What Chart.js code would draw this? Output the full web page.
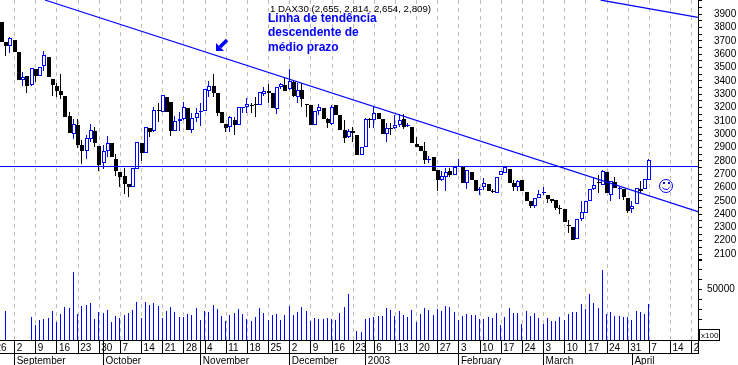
<!DOCTYPE html>
<html>
<head>
<meta charset="utf-8">
<script src="https://cdn.jsdelivr.net/npm/chart.js@4/dist/chart.umd.min.js"></script>
<style>
  html, body { margin: 0; padding: 0; background: #fff; }
  canvas { display: block; }
</style>
</head>
<body>
<canvas id="daxChart" width="738" height="365"></canvas>
<script>
// Daily DAX30 prices, one entry per trading day
const opens = [
  3842,3695,3665,3707,3617,3405,3437,3370,3490,3440,
  3515,3580,3415,3362,3325,3287,3140,3005,3070,2922,
  2877,2967,3025,2912,2780,2870,2932,2815,2717,2687,
  2627,2600,2737,2932,2862,3047,3027,3180,3165,3280,
  3242,3027,3097,3112,3197,3030,3125,3165,3172,3327,
  3362,3307,3165,3077,3052,3105,3067,3200,3202,3222,
  3227,3220,3300,3322,3307,3192,3352,3370,3337,3395,
  3282,3332,3225,3220,3067,3172,3200,3115,3080,3220,
  3145,3035,2977,3027,2995,2847,2907,3112,3107,3157,
  3112,3005,3050,3045,3067,3115,3062,3055,2927,2912,
  2872,2812,2825,2730,2655,2677,2720,2692,2757,2757,
  2630,2717,2657,2590,2600,2625,2570,2562,2692,2712,
  2737,2632,2600,2657,2567,2500,2457,2520,2562,2542,
  2512,2507,2445,2440,2320,2302,2212,2362,2407,2495,
  2587,2640,2620,2715,2545,2640,2587,2592,2520,2437,
  2475,2587,2587,2655
];
const closes = [
  3695,3665,3720,3617,3407,3432,3362,3495,3437,3502,
  3592,3430,3372,3327,3295,3130,3010,3077,2922,2877,
  2970,3032,2930,2770,2870,2932,2827,2727,2677,2627,
  2604,2745,2940,2862,3057,3015,3182,3177,3292,3165,
  3022,3100,3112,3202,3032,3120,3162,3175,3337,3360,
  3312,3162,3087,3050,3127,3070,3202,3202,3225,3212,
  3217,3315,3327,3312,3200,3352,3377,3327,3397,3290,
  3332,3262,3217,3070,3175,3202,3115,3087,3207,3145,
  3035,2975,3027,3007,2847,2902,3112,3107,3162,3117,
  3002,3045,3047,3067,3107,3055,3067,2932,2907,2875,
  2807,2817,2727,2655,2687,2715,2695,2757,2760,2637,
  2732,2657,2574,2592,2632,2575,2567,2682,2720,2750,
  2630,2600,2652,2574,2495,2457,2520,2550,2565,2512,
  2500,2447,2442,2337,2317,2207,2362,2412,2500,2587,
  2620,2637,2720,2562,2645,2595,2595,2532,2422,2462,
  2595,2570,2662,2809
];
const highs = [
  3842,3695,3727,3707,3617,3470,3437,3495,3490,3502,
  3625,3580,3415,3382,3452,3287,3170,3112,3115,2957,
  2995,3077,3057,2912,2920,2987,2932,2852,2717,2745,
  2627,2745,2940,2932,3057,3047,3202,3237,3292,3280,
  3242,3137,3170,3245,3197,3157,3195,3232,3337,3400,
  3452,3307,3165,3077,3137,3132,3202,3202,3270,3232,
  3277,3315,3352,3375,3307,3352,3387,3420,3490,3407,
  3382,3387,3227,3220,3175,3227,3200,3120,3220,3220,
  3145,3107,3037,3057,2995,2902,3120,3120,3207,3157,
  3112,3082,3082,3145,3150,3150,3087,3055,2982,2912,
  2945,2837,2825,2730,2720,2745,2745,2757,2812,2757,
  2732,2717,2657,2607,2670,2625,2587,2682,2720,2750,
  2737,2657,2657,2657,2567,2500,2520,2582,2607,2542,
  2512,2507,2465,2440,2357,2302,2362,2495,2500,2587,
  2675,2690,2732,2715,2645,2682,2607,2592,2520,2495,
  2595,2650,2662,2814
];
const lows = [
  3695,3587,3612,3617,3407,3362,3312,3362,3395,3440,
  3477,3430,3287,3277,3262,3130,3010,2967,2895,2777,
  2812,2945,2900,2725,2742,2832,2827,2687,2604,2552,
  2532,2600,2737,2802,2862,2977,3015,3095,3165,3165,
  2987,3027,3027,3107,3032,3012,3092,3062,3172,3282,
  3282,3140,3087,3020,3020,2995,3067,3157,3162,3157,
  3127,3220,3287,3232,3200,3152,3337,3327,3332,3282,
  3232,3207,3132,3070,3067,3145,3115,3045,3070,3145,
  3035,2937,2970,2945,2847,2847,2907,3045,3045,3117,
  3002,2945,2995,3040,3057,3037,3052,2932,2907,2875,
  2777,2782,2727,2570,2645,2570,2682,2692,2755,2637,
  2590,2657,2574,2540,2582,2575,2557,2562,2692,2712,
  2630,2574,2570,2574,2495,2442,2445,2520,2545,2482,
  2482,2427,2402,2337,2257,2207,2212,2345,2407,2495,
  2582,2557,2620,2562,2495,2595,2512,2507,2407,2407,
  2475,2557,2587,2654
];
const volumes = [
  null,28600,null,null,null,null,null,22700,14800,19700,
  20700,21700,28600,17800,25700,32600,31600,67100,25700,33600,
  34500,36500,20700,27600,26600,29600,17800,23700,21700,24700,
  26600,29600,37500,21700,37500,34500,36500,33600,21700,28600,
  32600,27600,22700,22700,25700,24700,31600,19700,28600,27600,
  34500,30600,23700,18800,24700,26600,30600,25700,20700,18800,
  22700,31600,26600,19700,24700,25700,19700,24700,33600,24700,
  27600,32600,28600,18800,21700,20700,20700,21700,20700,19700,
  26600,32600,45400,null,8900,7900,20700,21700,22700,23700,
  23700,31600,29600,23700,28600,24700,22700,29600,17800,25700,
  31600,29600,24700,30600,28600,33600,32600,27600,19700,23700,
  25700,24700,24700,20700,20700,22700,21700,26600,14800,22700,
  31600,26600,26600,15800,28600,23700,26600,21700,15800,21700,
  18800,18800,22700,19700,25700,27600,27600,35500,30600,45400,
  36500,31600,69100,25700,27600,23700,23700,22700,22700,19700,
  28600,27600,25700,35500
];

// Weekly ticks: trading-day position and the day of month printed next to it
const weekPositions = [-2,3,8,13,18,23,28,33,38,43,48,53,58,63,68,73,78,83,88,93,98,103,108,113,118,123,128,133,138,143,148,153,158,163];
const weekLabels = ["26","2","9","16","23","30","7","14","21","28","4","11","18","25","2","9","16","23","6","13","20","27","3","10","17","24","3","10","17","24","31","7","14","2"];
const monthPositions = [3,24,47,68,86,108,128,149];
const monthLabels = ["September","October","November","December","2003","February","March","April"];

const priceTicks = [2050,2100,2150,2200,2250,2300,2350,2400,2450,2500,2550,2600,2650,2700,2750,2800,2850,2900,2950,3000,3050,3100,3150,3200,3250,3300,3350,3400,3450,3500,3550,3600,3650,3700,3750,3800,3850,3900,3950,4000];
const volumeTicks = [0,10000,20000,30000,40000,50000,60000,70000,80000];

// Trend lines drawn on the price axis: [day, price]
const upperTrend = [[10.16, 4007], [164.5, 2418]];
const outerTrend = [[141.5, 4007], [164.5, 3877]];
const supportLevel = [[-0.5, 2757], [164.5, 2757]];

const annotationLines = ["Linha de tendência", "descendente de", "médio prazo"];
const headerText = "1 DAX30 (2,655, 2,814, 2,654, 2,809)";

const BLUE = "#0000ff";
const TEXT_FONT = { family: "'Liberation Sans', Arial, sans-serif", size: 10 };
const X_MIN = -0.47;
const X_MAX = 164.5;

const isUp = (i) => closes[i] >= opens[i];
const candleColor = (i) => (isUp(i) ? BLUE : "#000");

const bodies = opens.map((o, i) => ({ x: i, y: [o, closes[i]] }));
const wicks = opens.map((o, i) => ({ x: i, y: [lows[i], highs[i]] }));
const volumeBars = volumes.map((v, i) => ({ x: i, y: v })).filter((d) => d.y !== null);

// Ticks of the first date row also mark the month starts and the right end
const rowTicks = weekPositions.concat([24, 47, 86, X_MAX]);

function trendDataset(points, width) {
  return {
    type: "line",
    data: points.map((p) => ({ x: p[0], y: p[1] })),
    yAxisID: "price",
    borderColor: BLUE,
    borderWidth: width,
    pointRadius: 0,
    order: 0,
  };
}

// Keep bars on whole pixels, the reference is an aliased bitmap
const pixelSnap = {
  id: "pixelSnap",
  afterDatasetsUpdate(chart) {
    chart.data.datasets.forEach((ds, idx) => {
      if (ds.type === "line") return;
      chart.getDatasetMeta(idx).data.forEach((el) => {
        el.x = ds.snap === "thin" ? Math.round(el.x) - 0.5 : Math.round(el.x);
        el.y = Math.round(el.y);
        el.base = Math.round(el.base);
        if (el.y === el.base) el.base += 1;
      });
    });
  },
};

// Notes, arrow, smiley and the x100 box sitting on top of the chart
const overlays = {
  id: "overlays",
  afterDraw(chart) {
    const ctx = chart.ctx;
    ctx.save();
    ctx.textBaseline = "middle";
    ctx.textAlign = "left";

    ctx.fillStyle = "#000";
    ctx.font = "9.7px 'Liberation Sans', Arial, sans-serif";
    ctx.fillText(headerText, 270, 9);

    ctx.fillStyle = BLUE;
    ctx.font = "bold 12px 'Liberation Sans', Arial, sans-serif";
    annotationLines.forEach((line, i) => ctx.fillText(line, 268, 18.5 + i * 14.5));

    // arrow pointing at the trend line
    ctx.strokeStyle = BLUE;
    ctx.lineWidth = 3.5;
    ctx.beginPath();
    ctx.moveTo(220, 47);
    ctx.lineTo(227, 40);
    ctx.stroke();
    ctx.beginPath();
    ctx.moveTo(216, 51);
    ctx.lineTo(216, 43);
    ctx.lineTo(224, 51);
    ctx.closePath();
    ctx.fill();

    // smiley
    ctx.lineWidth = 1;
    ctx.beginPath();
    ctx.arc(666, 186, 6.5, 0, Math.PI * 2);
    ctx.stroke();
    ctx.beginPath();
    ctx.arc(666, 185.5, 4, 0.15 * Math.PI, 0.85 * Math.PI);
    ctx.stroke();
    ctx.fillRect(663, 182, 2, 2);
    ctx.fillRect(668, 182, 2, 2);

    // volume multiplier box
    ctx.strokeStyle = "#000";
    ctx.strokeRect(699.5, 329.5, 20, 11);
    ctx.fillStyle = "#000";
    ctx.font = "8px 'Liberation Sans', Arial, sans-serif";
    ctx.fillText("x100", 701, 335.5);
    ctx.restore();
  },
};

new Chart(document.getElementById("daxChart").getContext("2d"), {
  type: "bar",
  data: {
    datasets: [
      trendDataset(upperTrend, 1.2),
      trendDataset(outerTrend, 1.2),
      trendDataset(supportLevel, 1),
      {
        data: bodies,
        yAxisID: "price",
        grouped: false,
        barThickness: 4,
        inflateAmount: 0,
        borderWidth: 1,
        borderSkipped: false,
        borderColor: opens.map((o, i) => candleColor(i)),
        backgroundColor: opens.map((o, i) => (isUp(i) ? "#fff" : "#000")),
        order: 1,
      },
      {
        data: wicks,
        yAxisID: "price",
        grouped: false,
        snap: "thin",
        barThickness: 1,
        inflateAmount: 0,
        backgroundColor: opens.map((o, i) => candleColor(i)),
        order: 2,
      },
      {
        data: volumeBars,
        yAxisID: "volume",
        grouped: false,
        snap: "thin",
        barThickness: 1,
        inflateAmount: 0,
        backgroundColor: BLUE,
        order: 3,
      },
    ],
  },
  options: {
    responsive: false,
    animation: false,
    layout: { padding: 0 },
    plugins: { legend: { display: false }, tooltip: { enabled: false } },
    scales: {
      x: {
        type: "linear",
        offset: false,
        min: X_MIN,
        max: X_MAX,
        position: "bottom",
        afterBuildTicks: (s) => { s.ticks = rowTicks.map((v) => ({ value: v })); },
        afterFit: (s) => { s.height = 13; s.paddingLeft = 0; s.paddingRight = 0; },
        ticks: {
          autoSkip: false,
          maxRotation: 0,
          align: "start",
          labelOffset: 2,
          padding: -11,
          color: "#000",
          font: TEXT_FONT,
          callback: (v, i) => weekLabels[i] || "",
        },
        grid: {
          offset: false,
          tickLength: 13,
          tickColor: "#000",
          color: (ctx) => (ctx.tick && weekPositions.includes(ctx.tick.value) ? "#bdbdbd" : "transparent"),
        },
        border: { color: "#000", dash: [4, 4] },
      },
      months: {
        type: "linear",
        axis: "x",
        offset: false,
        min: X_MIN,
        max: X_MAX,
        position: "bottom",
        afterBuildTicks: (s) => { s.ticks = monthPositions.map((v) => ({ value: v })); },
        afterFit: (s) => { s.height = 12; s.paddingLeft = 0; s.paddingRight = 0; },
        ticks: {
          autoSkip: false,
          maxRotation: 0,
          align: "start",
          labelOffset: 2,
          padding: -10,
          color: "#000",
          font: TEXT_FONT,
          callback: (v, i) => monthLabels[i],
        },
        grid: { offset: false, drawOnChartArea: false, tickLength: 12, tickColor: "#000" },
        border: { color: "#000" },
      },
      price: {
        type: "linear",
        position: "right",
        stack: "right",
        stackWeight: 259,
        min: 2062.8,
        max: 4007.4,
        afterBuildTicks: (s) => { s.ticks = priceTicks.map((v) => ({ value: v })); },
        afterFit: (s) => { s.width = 40; s.paddingTop = 0; s.paddingBottom = 0; },
        ticks: {
          autoSkip: false,
          padding: 12,
          color: "#000",
          font: TEXT_FONT,
          callback: (v) => (v % 100 === 0 && v <= 3900 ? String(v) : ""),
        },
        grid: { drawOnChartArea: false, tickLength: 4, tickColor: "#000" },
        border: { color: "#000" },
      },
      volume: {
        type: "linear",
        position: "right",
        stack: "right",
        stackWeight: 81,
        min: 0,
        max: 80000,
        afterBuildTicks: (s) => { s.ticks = volumeTicks.map((v) => ({ value: v })); },
        afterFit: (s) => { s.width = 40; s.paddingTop = 0; s.paddingBottom = 0; },
        ticks: {
          autoSkip: false,
          padding: 5,
          color: "#000",
          font: TEXT_FONT,
          callback: (v) => (v === 50000 ? "50000" : ""),
        },
        grid: { drawOnChartArea: false, tickLength: 4, tickColor: "#000" },
        border: { color: "#000" },
      },
    },
  },
  plugins: [pixelSnap, overlays],
});
</script>
</body>
</html>
